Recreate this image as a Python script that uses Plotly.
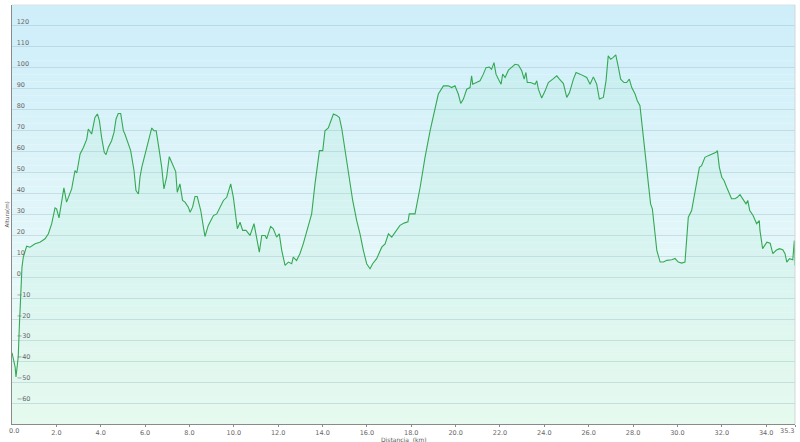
import plotly.graph_objects as go

distancia = [0.0, 0.14, 0.18, 0.24, 0.28, 0.33, 0.39, 0.45, 0.51, 0.66, 0.81, 1.04, 1.26, 1.49, 1.64, 1.79, 1.94, 2.01,
             2.12, 2.24, 2.34, 2.46, 2.61, 2.69, 2.84, 2.92, 3.07, 3.22, 3.37, 3.44, 3.59, 3.74, 3.85, 3.94, 4.04, 4.16,
             4.24, 4.34, 4.49, 4.6, 4.69, 4.79, 4.9, 5.02, 5.09, 5.2, 5.35, 5.5, 5.59, 5.7, 5.77, 5.85, 6.0, 6.15, 6.3,
             6.4, 6.5, 6.64, 6.75, 6.85, 6.97, 7.09, 7.2, 7.3, 7.38, 7.45, 7.57, 7.69, 7.8, 7.95, 8.03, 8.14, 8.25, 8.35,
             8.51, 8.63, 8.7, 8.85, 9.08, 9.23, 9.38, 9.53, 9.68, 9.86, 9.98, 10.1, 10.16, 10.28, 10.4, 10.55, 10.73,
             10.91, 11.03, 11.15, 11.26, 11.41, 11.48, 11.66, 11.78, 11.93, 12.05, 12.16, 12.31, 12.46, 12.61, 12.68,
             12.83, 12.98, 13.13, 13.29, 13.51, 13.66, 13.86, 14.01, 14.11, 14.26, 14.37, 14.49, 14.64, 14.76, 14.87,
             14.97, 15.09, 15.21, 15.36, 15.54, 15.69, 15.84, 15.99, 16.14, 16.26, 16.44, 16.67, 16.82, 16.97, 17.12,
             17.34, 17.49, 17.7, 17.85, 17.91, 18.17, 18.4, 18.62, 18.85, 19.07, 19.22, 19.45, 19.67, 19.82, 19.97,
             20.12, 20.23, 20.35, 20.5, 20.65, 20.72, 20.77, 20.95, 21.1, 21.25, 21.37, 21.52, 21.62, 21.73, 21.82,
             21.93, 22.05, 22.12, 22.23, 22.38, 22.53, 22.68, 22.83, 22.98, 23.09, 23.17, 23.23, 23.38, 23.58, 23.66,
             23.73, 23.88, 24.03, 24.18, 24.38, 24.56, 24.68, 24.86, 25.01, 25.13, 25.31, 25.43, 25.61, 25.79, 25.91,
             26.06, 26.21, 26.36, 26.48, 26.66, 26.78, 26.88, 26.99, 27.09, 27.22, 27.34, 27.44, 27.59, 27.71, 27.83,
             27.94, 28.09, 28.19, 28.31, 28.39, 28.46, 28.58, 28.69, 28.79, 28.87, 28.91, 28.99, 29.07, 29.22, 29.37,
             29.52, 29.74, 29.89, 30.04, 30.19, 30.34, 30.42, 30.49, 30.64, 30.79, 30.99, 31.09, 31.24, 31.39, 31.59,
             31.74, 31.8, 31.89, 32.0, 32.1, 32.22, 32.34, 32.44, 32.59, 32.7, 32.82, 32.94, 33.09, 33.17, 33.26, 33.41,
             33.57, 33.69, 33.72, 33.84, 34.03, 34.18, 34.3, 34.45, 34.6, 34.75, 34.85, 34.93, 35.05, 35.2, 35.27, 35.3]
altura = [-36, -42.7, -47.5, -41, -38, -23.7, -9.4, 4.9, 9.7, 14.9, 14.4, 16, 16.8, 18.4, 20.8, 25.6, 33.2, 32.7,
          28.4, 36.7, 42.7, 35.9, 40.6, 42.2, 51, 49.8, 58.9, 62, 66, 70.8, 68.4, 76.3, 78, 74.8, 66.8, 59.7,
          58.6, 62, 65.2, 69.2, 75.6, 78.2, 78.2, 70, 68.4, 65.2, 60.5, 51, 41.4, 39.8, 47.8, 52.5, 58.9, 65.2, 71.3,
          70, 70, 60.5, 52.5, 42.2, 47.8, 57.6, 54.9, 51.8, 50.5, 40.6, 44.6, 36.7, 35.9, 33.5, 31.1, 33.5, 38.6, 38.6,
          31.9, 24, 19.5, 24.8, 29.5, 30.3, 33.5, 36.7, 38.2, 44.6, 38.2, 29.5, 23.2, 26.3, 22.4, 22.4, 20,
          25.6, 19.2, 12, 20, 20, 18.4, 24.3, 23.2, 19.2, 20.8, 12.9, 5.7, 7.3, 6.5, 9.7,
          8, 11.3, 16, 21.6, 30.3, 44.6, 60.5, 60.5, 70, 71.3, 74.8, 78, 77.3, 76.3, 70.8,
          63.7, 55.7, 46.2, 36.7, 27.1, 20.8, 12.9, 6.5, 4.1, 6.5, 8.9, 14.4, 16, 20.8, 19.2,
          22.4, 24.8, 26, 26.5, 30.3, 30.3, 43, 57.3, 70, 81.1, 87.5, 91.4, 91.4, 90.6, 91.4,
          87.5, 83, 85.1, 89.8, 90.6, 96.2, 92.2, 93, 93.8, 97, 100.1, 100.4, 99.3, 102.5, 97,
          94.6, 92.2, 97, 95.4, 98.9, 100.4, 101.7, 101.4, 98.6, 94.6, 97.8, 93, 93, 92.2, 93.8,
          89.8, 85.6, 88.9, 93, 94.6, 96.2, 94.6, 92.5, 85.9, 88.1, 94.6, 97.8, 97, 96.2, 95.4,
          92.2, 95.7, 92.2, 85.1, 85.9, 93.8, 105.7, 104.1, 104.9, 106.2, 100.1, 94.6, 93, 93, 94.6,
          90.6, 87.5, 84.3, 81.9, 74.8, 66.8, 55.7, 44.6, 35.1, 32.7, 29.5, 20.8, 12.9, 7.3, 7.3,
          8.1, 8.4, 9, 7.3, 6.8, 7.3, 17.6, 28.7, 31.9, 41.4, 52.5, 53.3, 57.3, 58.1, 58.9,
          59.7, 60.5, 52.5, 47.8, 46.2, 43, 39.8, 37.5, 37.5, 38.2, 39.5, 37.5, 35.1, 36.7, 31.9, 29.5,
          25.6, 27.1, 22.4, 13.7, 16.8, 16.3, 11.3, 12.9, 13.7, 13.2, 11.3, 7.3, 8.9, 8.4, 17.6, 5.7]

x_tickvals = [0, 2, 4, 6, 8, 10, 12, 14, 16, 18, 20, 22, 24, 26, 28, 30, 32, 34, 35.3]
x_ticktext = ["0.0", "2.0", "4.0", "6.0", "8.0", "10.0", "12.0", "14.0", "16.0", "18.0", "20.0", "22.0",
              "24.0", "26.0", "28.0", "30.0", "32.0", "34.0", "35.3"]
y_tickvals = [-60, -50, -40, -30, -20, -10, 0, 10, 20, 30, 40, 50, 60, 70, 80, 90, 100, 110, 120]
Y_MIN, Y_MAX = -70, 130
X_MAX = 35.3

TICK_FONT = dict(family="DejaVu Sans", size=6.5, color="#666666")

fig = go.Figure()

# baseline at the bottom of the axis for the area fill
fig.add_trace(go.Scatter(x=[distancia[0], distancia[-1]], y=[Y_MIN, Y_MIN], mode="lines",
                         line=dict(width=0), hoverinfo="skip", showlegend=False))
fig.add_trace(go.Scatter(x=distancia, y=altura, mode="lines", fill="tonexty",
                         fillcolor="rgba(130,230,170,0.11)",
                         line=dict(color="#35a854", width=1.1), showlegend=False))

# vertical gradient background
shapes = []
n = 60
top = (206, 238, 250)
bot = (243, 253, 248)
for i in range(n):
    t = i / (n - 1)
    c = tuple(int(round(top[k] + (bot[k] - top[k]) * t)) for k in range(3))
    shapes.append(dict(type="rect", xref="paper", yref="paper", x0=0, x1=1,
                       y0=1 - (i + 1) / n, y1=1 - i / n, line=dict(width=0),
                       fillcolor="rgb(%d,%d,%d)" % c, layer="below"))
# light frame on top and right
shapes.append(dict(type="line", xref="paper", yref="paper", x0=0, x1=1, y0=1, y1=1,
                   line=dict(color="#d8e4e8", width=1)))
shapes.append(dict(type="line", xref="paper", yref="paper", x0=1, x1=1, y0=0, y1=1,
                   line=dict(color="#d0d8da", width=1)))

# the edge tick labels are drawn as annotations (plotly hides/clips them at the edges)
axis_ticktext = [""] + x_ticktext[1:-1] + [""]
annotations = [
    dict(text=x_ticktext[0], x=x_tickvals[0], xref="x", y=0, yref="paper", yshift=-7, xshift=2,
         showarrow=False, font=TICK_FONT, xanchor="center", yanchor="middle"),
    dict(text=x_ticktext[-1], x=x_tickvals[-1], xref="x", y=0, yref="paper", yshift=-7, xshift=1,
         showarrow=False, font=TICK_FONT, xanchor="right", yanchor="middle"),
    dict(text="Distancia  (km)", xref="paper", yref="paper", x=0.5, y=0, yshift=-15,
         showarrow=False, font=dict(family="DejaVu Sans", size=6, color="#555555"),
         xanchor="center", yanchor="middle"),
    dict(text="Altura(m)", xref="paper", yref="paper", x=0, y=0.5, xshift=-6, textangle=-90,
         showarrow=False, font=dict(family="DejaVu Sans", size=5.5, color="#555555"),
         xanchor="center", yanchor="middle"),
]

fig.update_layout(
    width=800, height=442,
    margin=dict(l=12, r=5, t=5, b=18, autoexpand=False),
    paper_bgcolor="white",
    plot_bgcolor="rgba(0,0,0,0)",
    shapes=shapes,
    font=TICK_FONT,
    xaxis=dict(range=[0, X_MAX], tickvals=x_tickvals, ticktext=axis_ticktext, showgrid=False,
               zeroline=False, showline=True, linecolor="#8a8a8a", linewidth=1,
               ticks="outside", ticklen=2, tickcolor="#8a8a8a", automargin=False,
               ticklabelstandoff=0, tickfont=TICK_FONT),
    yaxis=dict(range=[Y_MIN, Y_MAX], tickvals=y_tickvals, showgrid=True,
               gridcolor="rgba(160,190,200,0.45)", gridwidth=1, zeroline=False,
               showline=True, linecolor="#8a8a8a", linewidth=1, automargin=False,
               ticklabelposition="inside", ticklabelshift=-4, ticklabelstandoff=3,
               tickfont=TICK_FONT),
    annotations=annotations,
)

fig.write_html("out.html", config={"displayModeBar": False},
               post_script="document.body.style.margin='0';document.body.style.overflow='hidden';")
